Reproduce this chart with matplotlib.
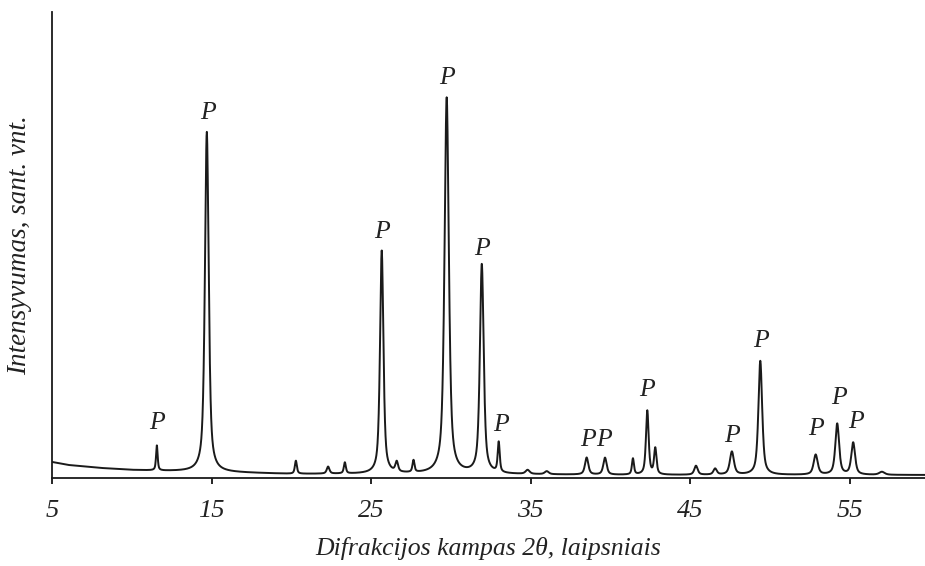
import numpy as np
import matplotlib
matplotlib.use("Agg")
import matplotlib.pyplot as plt

# peak table: position (deg 2theta), height above axis, FWHM
peak_pos = [11.57, 14.70, 20.28, 22.30, 23.35, 25.66, 26.60, 27.65, 29.73, 31.93,
            32.99, 34.80, 36.00, 38.50, 39.65, 41.40, 42.30, 42.80, 45.35, 46.55,
            47.60, 49.38, 52.85, 54.20, 55.20, 57.00]
peak_h = [25, 340, 13, 7, 11, 223, 10, 12, 376, 209,
          30, 4, 3, 17, 17, 16, 64, 26, 9, 6,
          23, 114, 20, 51, 32, 3]
peak_w = [0.12, 0.28, 0.15, 0.2, 0.15, 0.25, 0.2, 0.15, 0.32, 0.28,
          0.15, 0.3, 0.3, 0.25, 0.25, 0.15, 0.2, 0.18, 0.25, 0.25,
          0.3, 0.28, 0.3, 0.28, 0.28, 0.4]

# background level read at a few angles
bg_x = [5, 6, 8, 10, 12, 15, 20, 30, 40, 50, 59.7]
bg_y = [16, 13, 10, 8, 7, 6, 4, 4, 3, 3, 3]

# "P" markers: angle and height of label centre
lab_x = [11.6, 14.75, 25.7, 29.75, 31.95, 33.15, 38.6, 39.6, 42.3, 47.6, 49.4, 52.9, 54.3, 55.4]
lab_y = [55, 365, 246, 400, 229, 53, 38, 38, 88, 42, 137, 49, 80, 56]

XMIN, XMAX = 5, 59.7


def pattern(x):
    y = np.interp(x, bg_x, bg_y)
    for p, h, w in zip(peak_pos, peak_h, peak_w):
        g = np.exp(-4 * np.log(2) * ((x - p) / w) ** 2)
        lz = 1.0 / (1 + 4 * ((x - p) / w) ** 2)
        y = y + h * (0.65 * lz + 0.35 * g)
    return y


plt.rcParams["font.family"] = ["Liberation Serif", "DejaVu Serif"]
plt.rcParams["font.style"] = "italic"

fig = plt.figure(figsize=(9.25, 5.66), dpi=100)
ax = fig.add_axes([52 / 925, 1 - 478 / 566, 1 - 52 / 925, 466 / 566])

x = np.linspace(XMIN, XMAX, 6000)
ax.plot(x, pattern(x), color="#1a1a1a", lw=1.4)

for lx, ly in zip(lab_x, lab_y):
    ax.text(lx, ly, "P", ha="center", va="center", fontsize=18.5, style="italic",
            color="#222222")

ax.set_xlim(XMIN, XMAX)
ax.set_ylim(0, 466)
ax.set_xticks([5, 15, 25, 35, 45, 55])
ax.set_yticks([])
for s in ("top", "right"):
    ax.spines[s].set_visible(False)
for s in ("left", "bottom"):
    ax.spines[s].set_linewidth(1.3)
    ax.spines[s].set_color("#1a1a1a")
ax.tick_params(axis="x", direction="out", length=4, width=1.2, labelsize=19, pad=12,
               labelcolor="#222222")
for t in ax.get_xticklabels():
    t.set_fontstyle("italic")

ax.set_xlabel("Difrakcijos kampas 2θ, laipsniais", fontsize=18.5, style="italic",
              labelpad=11, color="#222222")
ax.set_ylabel("Intensyvumas, sant. vnt.", fontsize=19.5, style="italic", labelpad=14,
              color="#222222")

fig.savefig("out.png", dpi=100)
